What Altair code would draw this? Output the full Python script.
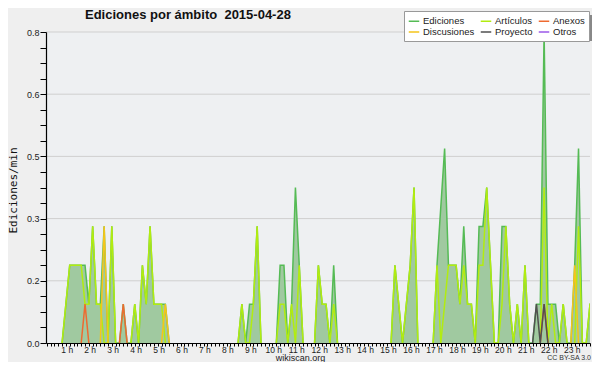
import altair as alt
import pandas as pd

# ---- data: one value per 10-minute step (edits per minute), 00:00 .. 23:50 ----
step_minutes = 10
series_names = ["Ediciones", "Artículos", "Anexos", "Discusiones", "Proyecto", "Otros"]
series_colors = ["#55bb55", "#b2ec10", "#ee6a30", "#f5c51a", "#505050", "#9b59e8"]

ediciones = [
    0, 0, 0, 0, 0, 0.1, 0.2, 0.2, 0.2, 0.2, 0.2, 0.1,
    0.3, 0.1, 0.1, 0.3, 0, 0.3, 0, 0, 0.1, 0, 0, 0.1,
    0, 0.2, 0.1, 0.3, 0.1, 0.1, 0.1, 0.1, 0, 0, 0, 0,
    0, 0, 0, 0, 0, 0, 0, 0, 0, 0, 0, 0,
    0, 0, 0, 0.1, 0, 0.1, 0.1, 0.3, 0, 0, 0, 0,
    0, 0.2, 0.2, 0, 0.1, 0.4, 0.2, 0, 0, 0, 0, 0.2,
    0.1, 0.1, 0, 0.2, 0, 0, 0, 0, 0, 0, 0, 0,
    0, 0, 0, 0, 0, 0, 0, 0.2, 0.1, 0, 0.1, 0.2,
    0.4, 0, 0, 0, 0, 0, 0.2, 0.35, 0.5, 0.2, 0.2, 0.2,
    0.1, 0.3, 0.1, 0.1, 0, 0.3, 0.3, 0.4, 0.2, 0, 0, 0.3,
    0.3, 0.1, 0, 0.1, 0, 0.2, 0, 0, 0.1, 0.1, 0.8, 0.1,
    0.1, 0.1, 0, 0.1, 0, 0, 0.2, 0.5, 0, 0, 0.1, 0.1,
]
articulos = [
    0, 0, 0, 0, 0, 0.1, 0.2, 0.2, 0.2, 0.2, 0.1, 0.1,
    0.3, 0.1, 0.1, 0, 0, 0.3, 0, 0, 0, 0, 0, 0.1,
    0, 0.2, 0.1, 0.3, 0.1, 0.1, 0.1, 0, 0, 0, 0, 0,
    0, 0, 0, 0, 0, 0, 0, 0, 0, 0, 0, 0,
    0, 0, 0, 0.1, 0, 0, 0.1, 0.3, 0, 0, 0, 0,
    0, 0.1, 0.1, 0, 0.1, 0, 0.2, 0, 0, 0, 0, 0.2,
    0.1, 0.1, 0, 0.1, 0, 0, 0, 0, 0, 0, 0, 0,
    0, 0, 0, 0, 0, 0, 0, 0.2, 0.1, 0, 0.1, 0.2,
    0.4, 0, 0, 0, 0, 0, 0.2, 0, 0.1, 0.2, 0.2, 0.2,
    0.1, 0.2, 0.1, 0.1, 0, 0.2, 0.2, 0.4, 0.2, 0, 0, 0.1,
    0.3, 0.1, 0, 0.1, 0, 0.2, 0, 0, 0, 0, 0.4, 0,
    0.1, 0, 0, 0.1, 0, 0, 0, 0.3, 0, 0, 0.1, 0.1,
]
anexos = [0] * 144
anexos[10] = 0.1
anexos[20] = 0.1
anexos[130] = 0.1
discusiones = [0] * 144
discusiones[15] = 0.3
discusiones[31] = 0.1
discusiones[138] = 0.2
proyecto = [0] * 144
proyecto[128] = 0.1
proyecto[130] = 0.1
otros = [0] * 144

y_ticks = [round(0.04 * k, 2) for k in range(21)]
y_grid = [0.16, 0.32, 0.48, 0.64, 0.8]
title_text = "Ediciones por ámbito\u00a0 2015-04-28"

# ---- tables ----
values = dict(zip(series_names, [ediciones, articulos, anexos, discusiones, proyecto, otros]))
rows = []
for name in series_names:
    v = values[name]
    n = len(v)
    seg = 0
    prev = False
    for i in range(n):
        keep = v[i] != 0 or (i > 0 and v[i - 1] != 0) or (i < n - 1 and v[i + 1] != 0)
        if keep:
            if not prev:
                seg += 1
            rows.append({"minute": i * step_minutes, "value": v[i], "series": name, "seg": f"{name}-{seg}"})
        prev = keep
lines_df = pd.DataFrame(rows)
area_df = pd.DataFrame({"minute": [i * step_minutes for i in range(len(ediciones))], "value": ediciones})
grid_df = pd.DataFrame({"value": y_grid})

x_scale = alt.Scale(domain=[-2, 1420], nice=False, zero=False)
y_scale = alt.Scale(domain=[0, 0.8], nice=False)

x_axis = alt.Axis(
    values=list(range(0, 1421, 10)),
    labelExpr="datum.value > 0 && datum.value % 60 == 0 ? format(datum.value / 60, 'd') + ' h' : ''",
    tickSize=3, tickColor="black", domainColor="black", domainWidth=1.2,
    labelFont="Liberation Sans", labelFontSize=8.5, labelColor="#222", labelPadding=-1, labelOffset=-3,
    labelOverlap=False, labelFlush=False, labelBound=False, grid=False, zindex=1,
    title="wikiscan.org", titleFont="Liberation Sans", titleFontSize=9, titleFontWeight="normal",
    titleColor="#222", titleX=254, titleY=17, titleBaseline="alphabetic", titleAnchor="middle", titleAlign="center",
)
y_axis = alt.Axis(
    values=y_ticks,
    labelExpr="abs(datum.value / 0.16 - round(datum.value / 0.16)) < 0.001 ? format(datum.value, '.1f') : ''",
    tickSize=6, tickColor="black", domainColor="black", domainWidth=1.2,
    labelFont="Liberation Sans", labelFontSize=9, labelColor="#222", labelPadding=1,
    labelOverlap=False, labelFlush=False, grid=False, zindex=1,
    title="Ediciones/min", titleFont="DejaVu Sans Mono", titleFontSize=11, titleFontWeight="normal",
    titleColor="#111", titleX=-33, titleY=158, titleBaseline="middle", titleAlign="center", titleAngle=-90,
)

X = alt.X("minute:Q", scale=x_scale, axis=x_axis)
Y = alt.Y("value:Q", scale=y_scale, axis=y_axis)

grid = alt.Chart(grid_df).mark_rule(color="#cfcfcf", strokeWidth=1).encode(y=Y)

area = alt.Chart(area_df).mark_area(color="#a0c9a0", opacity=1, clip=True).encode(x=X, y=Y)

lines = alt.Chart(lines_df).mark_line(strokeWidth=1.5, clip=True).encode(
    x=X, y=Y,
    color=alt.Color(
        "series:N",
        scale=alt.Scale(domain=series_names, range=series_colors),
        legend=alt.Legend(
            orient="none", legendX=358, legendY=-21, columns=3, direction="horizontal", title=None,
            symbolType="stroke", symbolSize=110, symbolStrokeWidth=1.5,
            labelFont="Liberation Sans", labelFontSize=9.5, labelColor="#222", labelOffset=3,
            columnPadding=2, rowPadding=-1, padding=4,
            fillColor="white", strokeColor="#999999",
        ),
        sort=series_names,
    ),
    detail="seg:N",
)

shadow = alt.Chart(alt.Data(values=[{}])).mark_rect(color="#888888").encode(
    x=alt.value(362), x2=alt.value(547), y=alt.value(-17), y2=alt.value(9)
)

title = alt.Chart(alt.Data(values=[{"t": title_text}])).mark_text(
    align="left", baseline="alphabetic", font="Liberation Sans", fontSize=13, fontWeight="bold", color="#111"
).encode(x=alt.value(39), y=alt.value(-13.5), text="t:N")

cc = alt.Chart(alt.Data(values=[{"t": "CC BY-SA 3.0"}])).mark_text(
    align="right", baseline="alphabetic", font="Liberation Sans", fontSize=7, color="#333"
).encode(x=alt.value(545), y=alt.value(328), text="t:N")

chart = alt.layer(grid, area, lines, shadow, title, cc).properties(
    width=544, height=311,
    padding={"left": 38, "top": 24, "right": 2, "bottom": 19},
    autosize=alt.AutoSizeParams(type="none"),
    background="#efefef",
).configure_view(fill="#eef0f2", stroke=None)

chart.save("out.html", embed_options={"renderer": "svg", "actions": False})
